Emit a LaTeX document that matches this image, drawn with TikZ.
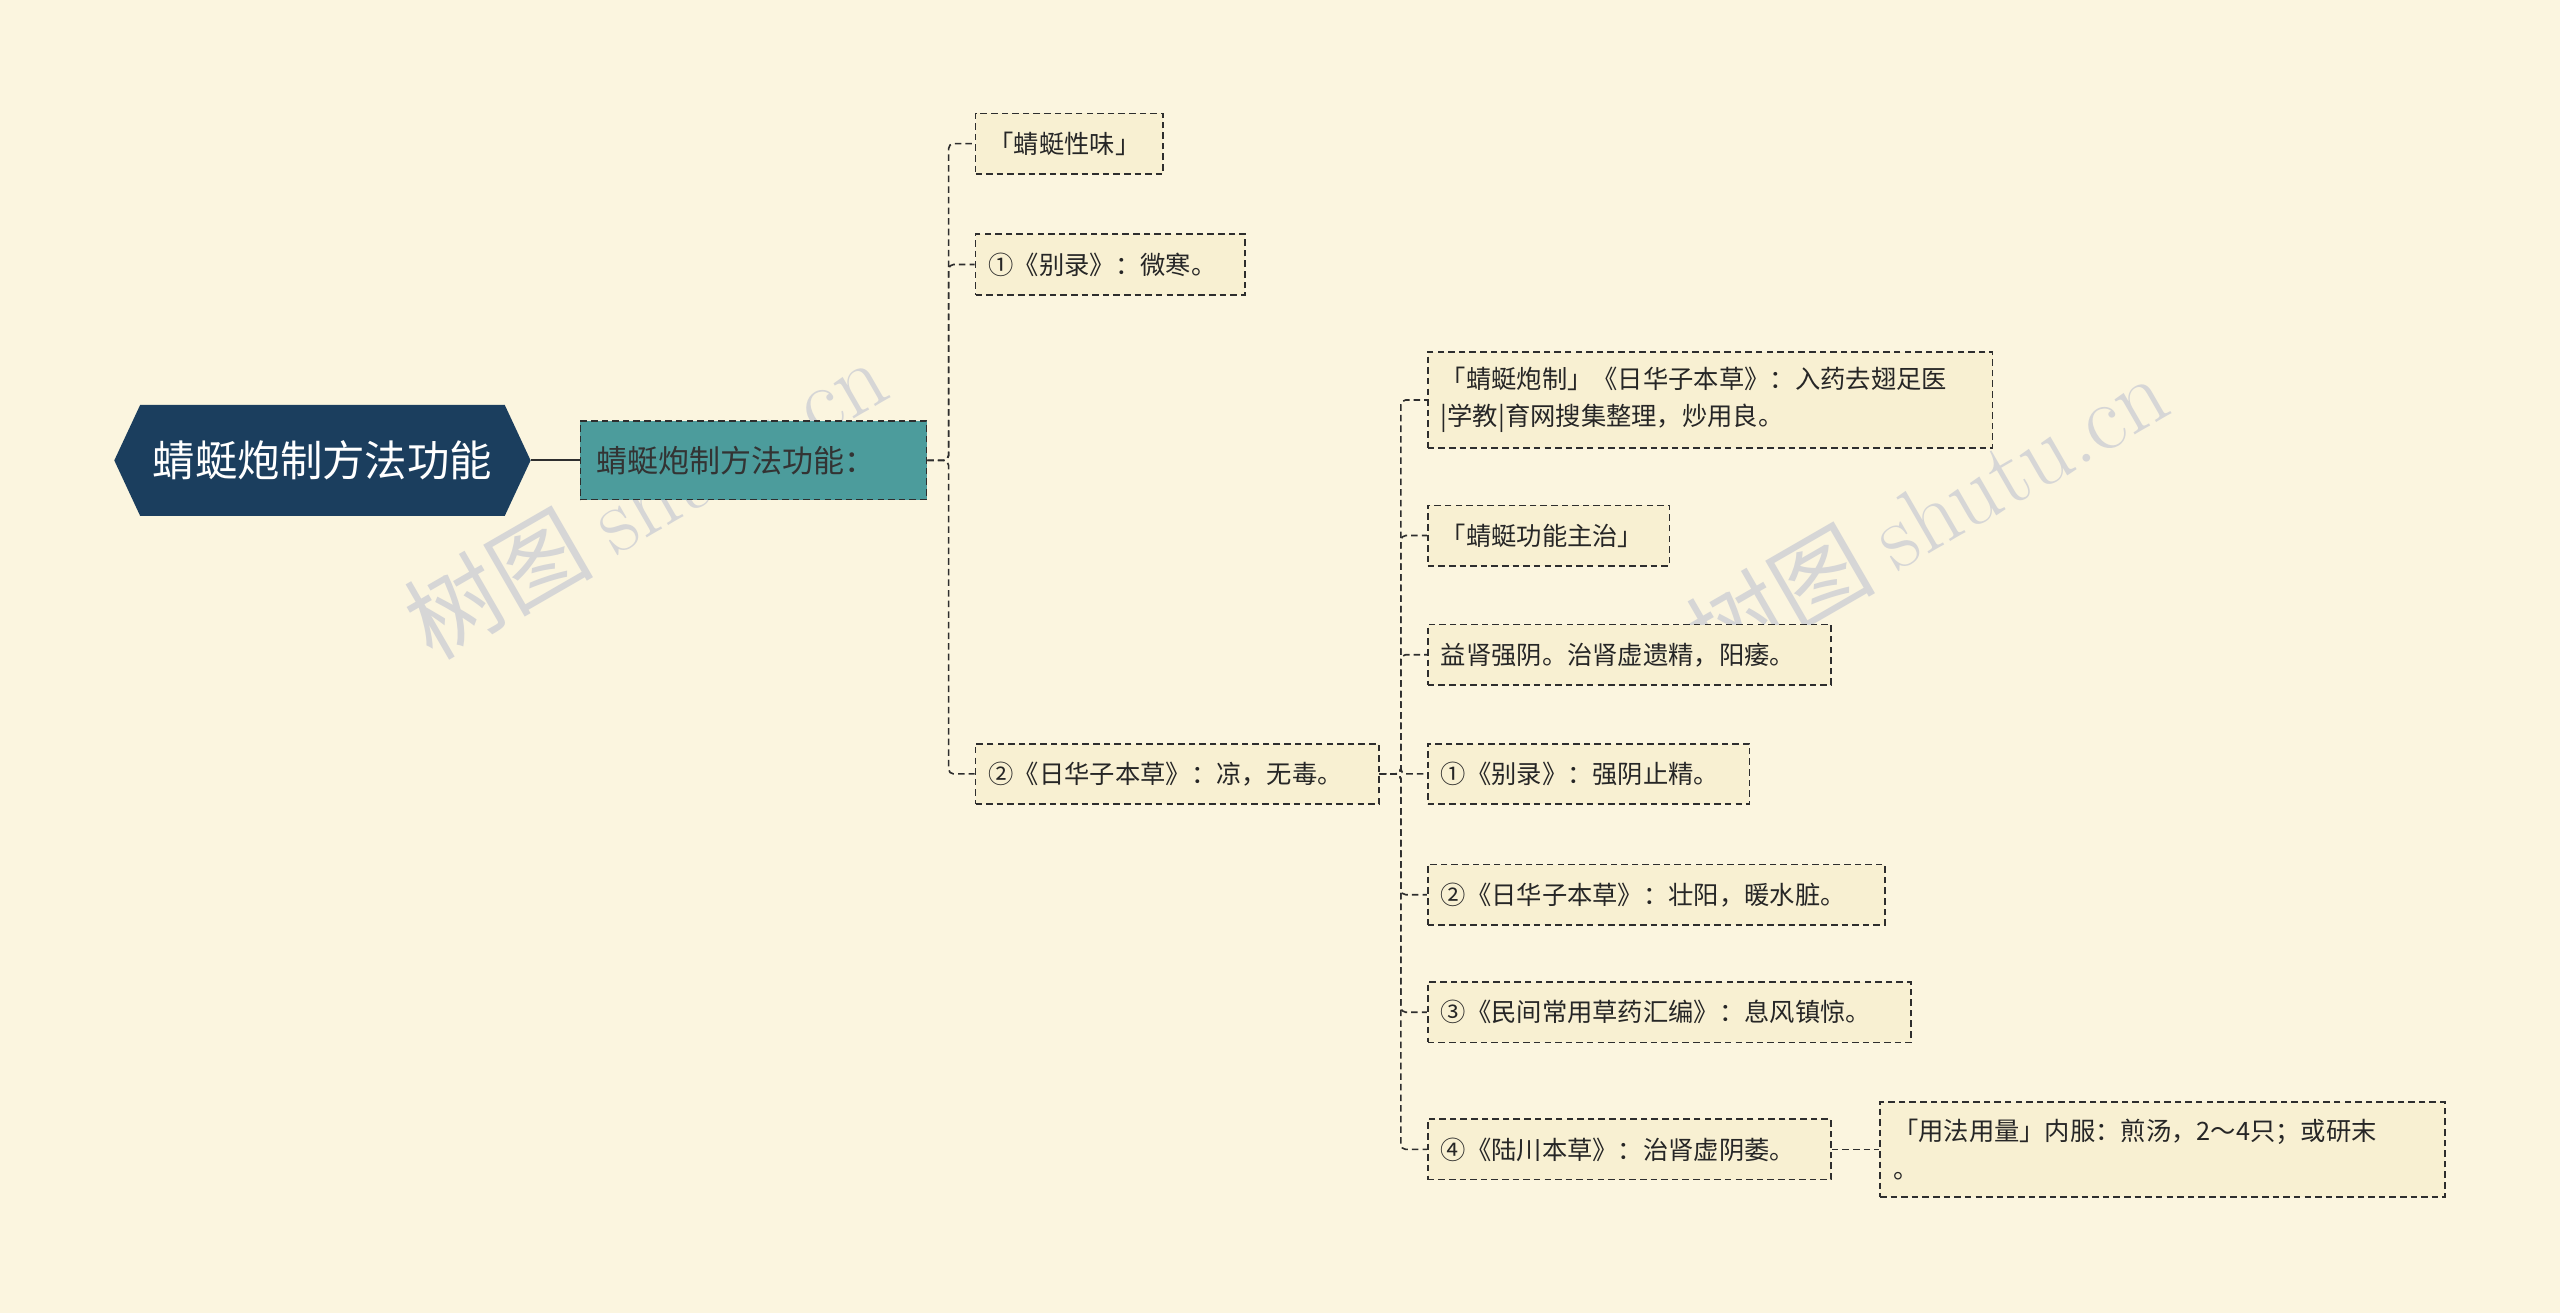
\documentclass[tikz,border=0pt]{standalone}
\usepackage{fontspec}
\newfontfamily\cjk{Noto Sans CJK SC}
\usetikzlibrary{shapes.symbols}
\definecolor{bg}{HTML}{FBF5DF}
\definecolor{leaf}{HTML}{F8F0D2}
\definecolor{rootc}{HTML}{1B3E5E}
\definecolor{teal}{HTML}{4C9C9C}
\definecolor{ln}{HTML}{2E2E2E}
\tikzset{
 leaf/.style={draw=ln, dash pattern=on 4pt off 2.5pt, fill=leaf, line width=1pt, anchor=west, inner xsep=8pt, inner ysep=0pt,
   minimum height=37pt, align=left, text width=#1-16pt, minimum width=#1, font=\cjk\fontsize{15.5}{23}\selectfont, text=black!85},
 conn/.style={draw=ln, dash pattern=on 4pt off 2.5pt, line width=1pt, rounded corners=3pt},
 wm/.style={rotate=30, text=black!16, font=\fontsize{58}{58}\selectfont},
}
\begin{document}
\begin{tikzpicture}[x=1pt,y=-1pt]
\fill[bg] (0,0) rectangle (1568,804);
\useasboundingbox (0,0) rectangle (1568,804);
% watermarks
\node[wm] (w1) at (395,305) {\cjk 树图 \rmfamily shutu.cn};
\node[wm] (w2) at (1180,315) {\cjk 树图 \rmfamily shutu.cn};
% root
\node[signal, signal to=west and east, signal pointer angle=130, fill=rootc, text=white, minimum width=255pt, minimum height=68pt, inner sep=0pt, font=\cjk\fontsize{26}{30}\selectfont] (root) at (197.5,282) {蜻蜓炮制方法功能};
\node[draw=ln, dash pattern=on 4pt off 2.5pt, fill=teal, line width=1pt, minimum width=212pt, minimum height=48pt, inner xsep=10pt, anchor=west, align=left, text width=192pt, font=\cjk\fontsize{19}{24}\selectfont, text=black!80] (l1) at (355,282) {蜻蜓炮制方法功能：};
\draw[ln, line width=1.3pt] (root.east) -- (l1.west);
% level 2
\node[leaf=115pt] (a1) at (597,88) {「蜻蜓性味」};
\node[leaf=165pt] (a2) at (597,162) {①《别录》：微寒。};
\node[leaf=247pt] (a3) at (597,474) {②《日华子本草》：凉，无毒。};
\foreach \c in {a1,a2,a3} \draw[conn] (l1.east) -- (581,282) |- (\c.west);
% level 3
\node[leaf=346pt, minimum height=59pt] (b1) at (874,245) {「蜻蜓炮制」《日华子本草》：入药去翅足医\\|学教|育网搜集整理，炒用良。};
\node[leaf=148pt] (b2) at (874,328) {「蜻蜓功能主治」};
\node[leaf=247pt] (b3) at (874,401) {益肾强阴。治肾虚遗精，阳痿。};
\node[leaf=197pt] (b4) at (874,474) {①《别录》：强阴止精。};
\node[leaf=280pt] (b5) at (874,548) {②《日华子本草》：壮阳，暖水脏。};
\node[leaf=296pt] (b6) at (874,620) {③《民间常用草药汇编》：息风镇惊。};
\node[leaf=247pt] (b7) at (874,704) {④《陆川本草》：治肾虚阴萎。};
\foreach \c in {b1,b2,b3,b4,b5,b6,b7} \draw[conn] (a3.east) -- (858,474) |- (\c.west);
\node[leaf=346pt, minimum height=58pt] (c1) at (1151,704) {「用法用量」内服：煎汤，2～4只；或研末\\。};
\draw[conn] (b7.east) -- (c1.west);
\end{tikzpicture}
\end{document}
